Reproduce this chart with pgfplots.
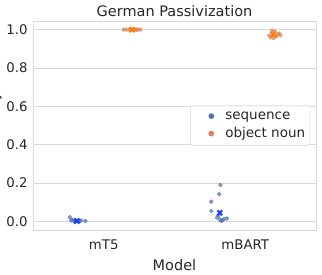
\documentclass[border=0pt]{standalone}
\usepackage{pgfplots}
\pgfplotsset{compat=1.18}
\usepackage{fontspec}
\setmainfont{DejaVu Sans}
\definecolor{txt}{HTML}{262626}
\definecolor{gridc}{HTML}{D9D9D9}
\definecolor{sblue}{HTML}{4C72B0}
\definecolor{sorange}{HTML}{DD8452}
\definecolor{mblue}{HTML}{1A3DFF}
\definecolor{morange}{HTML}{FF7F0E}
\begin{document}
\begin{tikzpicture}
\begin{axis}[
  name=ax,
  scale only axis,
  width=283pt, height=209pt,
  xmin=-0.5, xmax=1.5,
  ymin=-0.045, ymax=1.045,
  xtick={0,1}, xticklabels={mT5,mBART},
  ytick={0,0.2,0.4,0.6,0.8,1.0},
  yticklabel style={/pgf/number format/fixed,/pgf/number format/fixed zerofill,/pgf/number format/precision=1},
  /pgf/number format/assume math mode=true,
  major tick length=0pt,
  ymajorgrids,
  grid style={gridc, line width=0.8pt},
  axis line style={gridc, line width=0.8pt},
  tick label style={font=\fontsize{13.3}{15}\selectfont, text=txt},
  xticklabel style={yshift=-6pt},
  yticklabel style={xshift=-2pt},
  xlabel={Model},
  xlabel style={font=\fontsize{14.5}{16}\selectfont, text=txt, yshift=-3pt},
  ylabel={Accuracy},
  ylabel style={font=\fontsize{14.5}{16}\selectfont, text=txt, at={(axis description cs:-0.1219,0.5)}, anchor=base},
  title={German Passivization},
  title style={font=\fontsize{14.5}{16}\selectfont, text=txt, yshift=-5pt},
  legend style={at={(0.98,0.5)}, anchor=east, draw=gridc, rounded corners=2pt,
    fill=white, fill opacity=0.8, text opacity=1, font=\fontsize{13.5}{15}\selectfont,
    text=txt, row sep=3pt, inner xsep=3pt, inner ysep=4pt},
  legend cell align=left,
  legend image code/.code={\path[draw=none,fill=none] (0pt,-3pt) (30pt,3pt); \draw[#1, mark size=2.6pt, mark options={fill opacity=1}] plot coordinates {(18pt,0pt)};},
  clip=false,
]
\addplot[only marks, mark=*, mark size=1.9pt, color=sblue, mark options={draw=none, fill=sblue, fill opacity=0.65}] coordinates {
(-0.24,0.022) (-0.22,0.008) (-0.20,0.003) (-0.18,0.0) (-0.16,0.005) (-0.13,0.002)
(-0.21,0.0) (-0.19,0.004) (-0.17,0.001) (-0.23,0.005)
(0.825,0.19) (0.816,0.142) (0.76,0.103) (0.76,0.054) (0.80,0.02) (0.82,0.01)
(0.84,0.005) (0.85,0.012) (0.87,0.015) (0.83,0.003) (0.81,0.03)
};
\addlegendentry{sequence}
\addplot[only marks, mark=*, mark size=1.9pt, color=sorange, mark options={draw=none, fill=sorange, fill opacity=0.65}] coordinates {
(0.14,1.0) (0.16,1.0) (0.18,1.0) (0.20,1.0) (0.22,1.0) (0.24,1.0) (0.26,1.0)
(0.19,0.998) (0.21,1.0) (0.23,1.0)
(1.17,0.97) (1.19,0.995) (1.21,0.99) (1.23,0.975) (1.25,0.97) (1.18,0.96)
(1.20,0.955) (1.22,0.965) (1.24,0.98) (1.19,0.985)
};
\addlegendentry{object noun}
\addplot[only marks, mark=x, mark size=3.5pt, line width=2pt, color=mblue, forget plot] coordinates {
(-0.19,0.002) (0.82,0.045)
};
\addplot[only marks, mark=x, mark size=3.5pt, line width=2pt, color=morange, forget plot] coordinates {
(0.20,1.0) (1.20,0.974)
};
\end{axis}
\pgfresetboundingbox
\path ([shift={(-33pt,-44pt)}]ax.south west) rectangle ([shift={(6pt,21pt)}]ax.north east);
\end{tikzpicture}
\end{document}
